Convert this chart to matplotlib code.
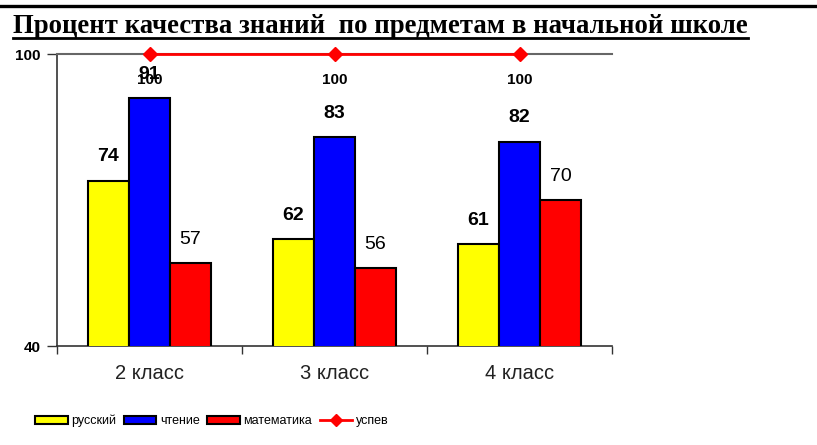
import matplotlib
matplotlib.use('Agg')
import matplotlib.pyplot as plt
from matplotlib.lines import Line2D
from matplotlib.patches import Patch
import numpy as np

title = 'Процент качества знаний  по предметам в начальной школе'
classes = ['2 класс', '3 класс', '4 класс']
russian = [74, 62, 61]
reading = [91, 83, 82]
math_ = [57, 56, 70]
success = [100, 100, 100]
names = ['русский', 'чтение', 'математика', 'успев']

plt.rcParams['font.family'] = ['Liberation Sans', 'DejaVu Sans']

W, H = 817, 445
fig = plt.figure(figsize=(W / 100, H / 100), dpi=100)
ax = fig.add_axes([57 / W, 1 - 346 / H, (612 - 57) / W, (346 - 54) / H])

x = np.arange(len(classes))
w = 0.222
series = [(russian, '#ffff00', names[0], 'bold'),
          (reading, '#0000ff', names[1], 'bold'),
          (math_, '#ff0000', names[2], 'normal')]
handles = []
for i, (vals, col, name, wt) in enumerate(series):
    xs = x + (i - 1) * w
    ax.bar(xs, vals, w, color=col, edgecolor='black', linewidth=1.5, zorder=3)
    handles.append(Patch(facecolor=col, edgecolor='black', linewidth=1.5, label=name))
    for xi, v in zip(xs, vals):
        ax.annotate(str(v), (xi, v), xytext=(0, 17), textcoords='offset points',
                    ha='center', va='center', fontsize=14, fontweight=wt)

ax.plot(x, success, color='red', lw=2, marker='D', ms=7, zorder=5, clip_on=False)
handles.append(Line2D([], [], color='red', lw=2, marker='D', ms=6, label=names[3]))
for xi, v in zip(x, success):
    ax.annotate(str(v), (xi, v), xytext=(0, -19), textcoords='offset points',
                ha='center', va='center', fontsize=11, fontweight='bold')

ax.set_xlim(-0.5, 2.5)
ax.set_ylim(40, 100)
ax.set_yticks([40, 100])
ax.set_yticklabels(['40', '100'], fontweight='bold', fontsize=11)
ax.tick_params(axis='y', length=7, width=1, pad=5, colors='#333333', labelcolor='black')
ax.set_xticks([-0.5, 0.5, 1.5, 2.5])
ax.set_xticklabels([])
ax.tick_params(axis='x', which='major', length=6, width=1, colors='#333333')
ax.set_xticks(x, minor=True)
ax.set_xticklabels(classes, minor=True, fontsize=14.5, color='#222222')
ax.tick_params(axis='x', which='minor', length=0, pad=13)
ax.spines['right'].set_visible(False)
ax.spines['top'].set_color('#666666')
ax.spines['top'].set_linewidth(1.5)
for s in ['left', 'bottom']:
    ax.spines[s].set_color('#333333')
    ax.spines[s].set_linewidth(1.2)

fig.legend(handles=handles, loc='center left', bbox_to_anchor=(35 / W, 1 - 421 / H),
           ncol=4, frameon=False, fontsize=9, handlelength=2.6, handletextpad=0.3,
           columnspacing=0.6, borderaxespad=0, borderpad=0)

fig.add_artist(Line2D([0, 1], [1 - 6 / H] * 2, color='black', lw=2.4))

t = fig.text(13 / W, 1 - 33 / H, title, fontsize=16, fontweight='bold',
             family='Liberation Serif', va='baseline')
fig.canvas.draw()
bb = t.get_window_extent()
t.set_fontsize(16 * 735 / bb.width)
fig.canvas.draw()
bb = t.get_window_extent()
fig.add_artist(Line2D([bb.x0 / W, bb.x1 / W], [1 - 38 / H] * 2, color='black', lw=2))

fig.savefig('out.png', dpi=100)
